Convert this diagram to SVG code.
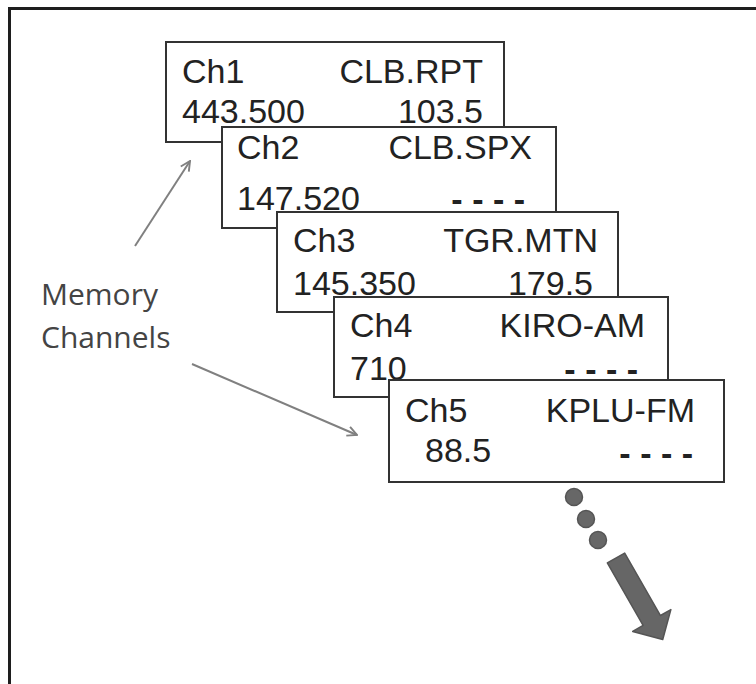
<svg xmlns="http://www.w3.org/2000/svg" width="756" height="684" viewBox="0 0 756 684">
<style>
.box{fill:#fff;stroke:#333;stroke-width:2}
.t{font-family:"Liberation Sans",Arial,sans-serif;font-size:34px;fill:#222}
.e{text-anchor:end}
.d{font-weight:bold}
.lbl{font-family:"Open Sans","Noto Sans",sans-serif;font-size:30px;fill:#444}
.ptr{stroke:#808080;stroke-width:2;fill:none}
.dot{fill:#676767;stroke:#555;stroke-width:1.5}
</style>
<defs>
<marker id="open" viewBox="0 0 10 10" refX="9" refY="5" markerWidth="12" markerHeight="12" markerUnits="userSpaceOnUse" orient="auto">
<path d="M1,1 L9,5 L1,9" fill="none" stroke="#808080" stroke-width="1.6"/>
</marker>
</defs>
<rect width="756" height="684" fill="#fff"/>
<g id="frame">
<line x1="8" y1="8.5" x2="756" y2="8.5" stroke="#1e1e1e" stroke-width="3"/>
<line x1="9.5" y1="7" x2="9.5" y2="684" stroke="#1e1e1e" stroke-width="3"/>
</g>
<g id="ch1">
<rect class="box" x="166" y="42" width="338" height="100"/>
<text class="t" x="182" y="83">Ch1</text>
<text class="t e" x="483" y="83">CLB.RPT</text>
<text class="t" x="182" y="123">443.500</text>
<text class="t e" x="483" y="123">103.5</text>
</g>
<g id="ch2">
<rect class="box" x="222" y="127" width="334" height="101"/>
<text class="t" x="237" y="159">Ch2</text>
<text class="t e" x="532" y="159">CLB.SPX</text>
<text class="t" x="237" y="210">147.520</text>
<text class="t e d" x="525" y="211">- - - -</text>
</g>
<g id="ch3">
<rect class="box" x="277" y="212" width="341" height="100"/>
<text class="t" x="293" y="252">Ch3</text>
<text class="t e" x="598" y="252">TGR.MTN</text>
<text class="t" x="293" y="295">145.350</text>
<text class="t e" x="593" y="295">179.5</text>
</g>
<g id="ch4">
<rect class="box" x="334" y="297" width="334" height="100"/>
<text class="t" x="350" y="337">Ch4</text>
<text class="t e" x="645" y="337">KIRO-AM</text>
<text class="t" x="350" y="380">710</text>
<text class="t e d" x="638" y="381">- - - -</text>
</g>
<g id="ch5">
<rect class="box" x="389" y="380" width="335" height="102"/>
<text class="t" x="405" y="422">Ch5</text>
<text class="t e" x="695" y="422">KPLU-FM</text>
<text class="t" x="425" y="462">88.5</text>
<text class="t e d" x="693" y="465">- - - -</text>
</g>
<g id="label">
<text class="lbl" x="41" y="305">Memory</text>
<text class="lbl" x="41" y="348">Channels</text>
</g>
<g id="more">
<circle class="dot" cx="574" cy="497" r="8.5"/>
<circle class="dot" cx="586" cy="519" r="8.5"/>
<circle class="dot" cx="598" cy="540" r="8.5"/>
<path transform="translate(616,558) rotate(60.2)" d="M0,-10 L72,-10 L72,-22 L94,0 L72,22 L72,10 L0,10 Z" fill="#666" stroke="#555" stroke-width="1.5" stroke-linejoin="round"/>
</g>
<g id="connectors">
<line class="ptr" x1="135" y1="246" x2="190" y2="161" marker-end="url(#open)"/>
<line class="ptr" x1="192" y1="364" x2="357" y2="435" marker-end="url(#open)"/>
</g>
</svg>
